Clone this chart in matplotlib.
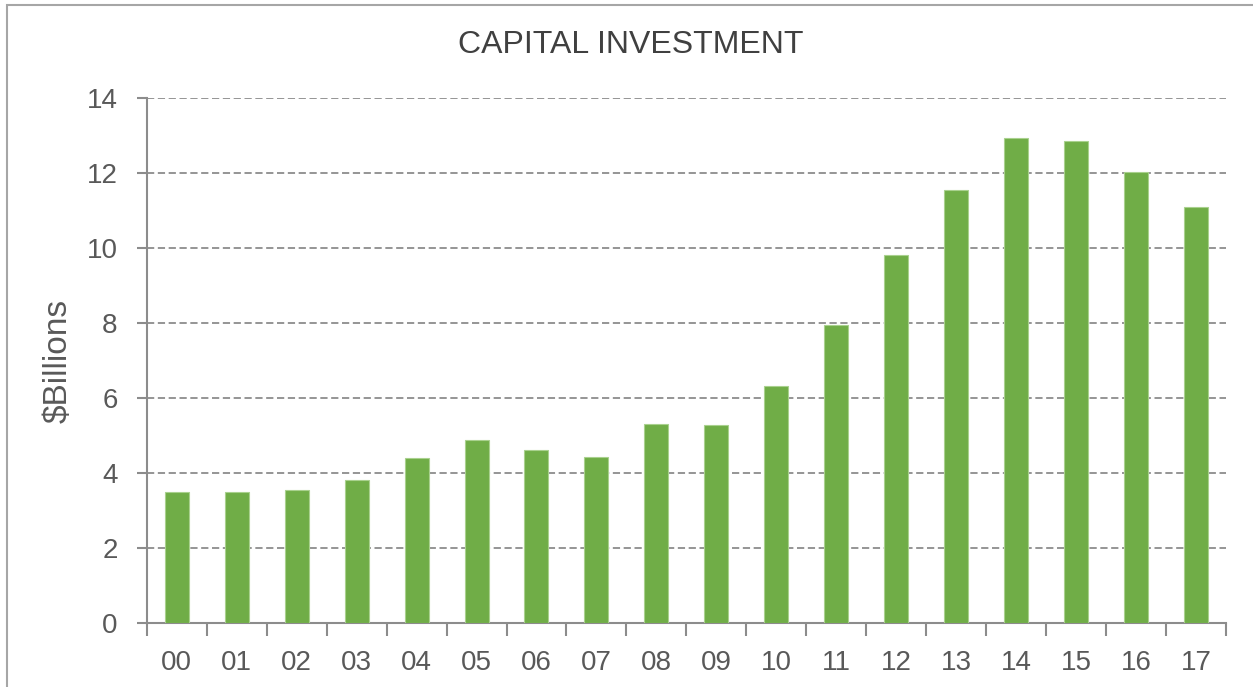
import matplotlib
matplotlib.use("Agg")
import matplotlib.pyplot as plt
from matplotlib.patches import Rectangle
import numpy as np

plt.rcParams['font.family'] = ['Liberation Sans', 'DejaVu Sans']

# ==================== data ====================
years = ["00", "01", "02", "03", "04", "05", "06", "07", "08",
         "09", "10", "11", "12", "13", "14", "15", "16", "17"]
investment = [3.50, 3.49, 3.55, 3.81, 4.41, 4.88, 4.61, 4.43, 5.31,
              5.28, 6.34, 7.96, 9.82, 11.55, 12.93, 12.86, 12.04, 11.10]
y_ticks = [0, 2, 4, 6, 8, 10, 12, 14]

# ==================== figure ====================
fig = plt.figure(figsize=(12.53, 6.87), dpi=100)
ax = fig.add_axes([0.1171, 0.0927, 0.8614, 0.7642])

x = np.arange(len(years))
ax.bar(x, investment, width=0.4, color="#70AD47", edgecolor="#A9D18E",
       linewidth=0.8, zorder=3)

ax.set_xlim(-0.5, len(years) - 0.5)
ax.set_ylim(0, 14)
ax.set_yticks(y_ticks)
ax.set_yticklabels([str(v) for v in y_ticks])

# category labels at centres, tick marks between categories
ax.set_xticks(x)
ax.set_xticklabels(years)
ax.set_xticks(np.arange(-0.5, len(years)), minor=True)
ax.tick_params(axis="x", which="major", length=0, pad=19,
               labelsize=20, labelcolor="#595959")
ax.tick_params(axis="x", which="minor", length=9, width=1.5,
               color="#8c8c8c", direction="out")
ax.tick_params(axis="y", length=7, width=1.5, color="#8c8c8c",
               pad=14, labelsize=20, labelcolor="#595959")

ax.grid(axis="y", color="#8c8c8c", linestyle=(0, (4, 2)), linewidth=1.3,
        zorder=0)
ax.set_axisbelow(True)

for side in ["top", "right"]:
    ax.spines[side].set_visible(False)
for side in ["left", "bottom"]:
    ax.spines[side].set_color("#8c8c8c")
    ax.spines[side].set_linewidth(1.5)

ax.set_ylabel("$Billions", fontsize=24, color="#595959", labelpad=9)

fig.text(0.503, 0.935, "CAPITAL INVESTMENT", ha="center", va="center",
         fontsize=23, color="#404040")

# chart-area border
fig.patches.append(Rectangle((7 / 1253, -0.05), 1.2, 0.05 + 1 - 5 / 687,
                             transform=fig.transFigure, fill=False,
                             edgecolor="#a6a6a6", linewidth=1.5))

fig.savefig("out.png", dpi=100)
